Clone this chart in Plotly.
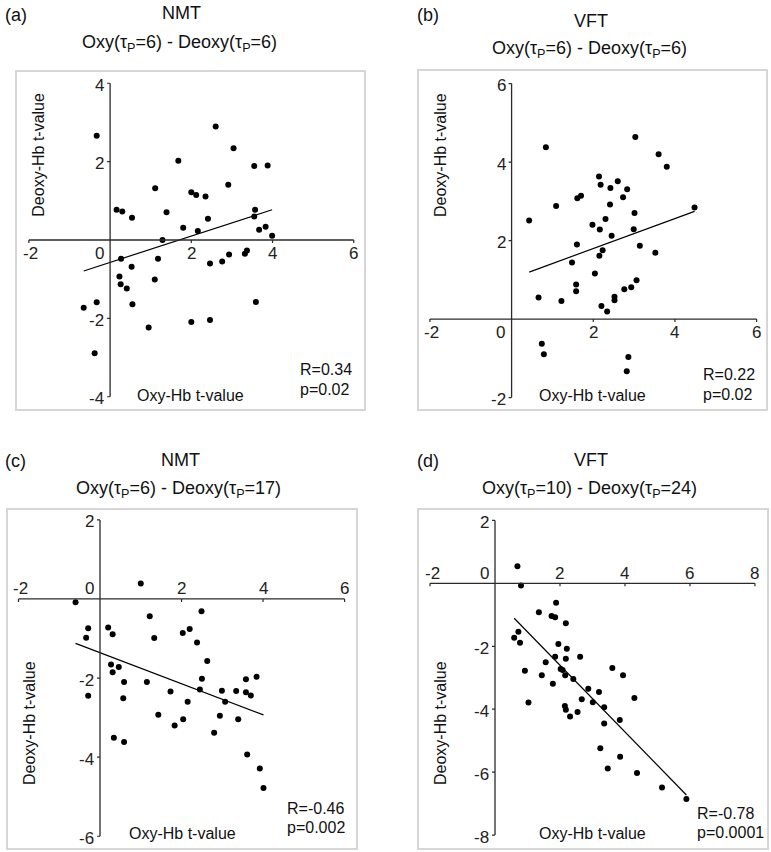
import numpy as np
import plotly.graph_objects as go

# ---------------- data ----------------
# (a) NMT  Oxy(tp=6) - Deoxy(tp=6)
a_oxy = [-0.33, -0.65, -0.33, -0.38, 0.16, 0.30, 0.54, 0.27, 0.23, 0.26, 0.41, 0.53, 0.55,
         0.95, 1.11, 1.39, 1.29, 1.18, 1.10, 1.68, 1.80, 2.00, 2.12, 2.16, 2.35, 2.41, 2.60,
         2.91, 3.04, 2.00, 2.46, 2.46, 2.76, 2.93, 3.32, 3.37, 3.55, 3.88, 3.57, 3.55, 3.67,
         3.83, 3.99, 3.59]
a_deoxy = [2.66, -1.73, -1.59, -2.89, 0.77, 0.73, 0.57, -0.48, -0.93, -1.13, -1.24, -0.68, -1.64,
           -2.23, 1.32, 0.71, 0.00, -0.48, -1.01, 2.02, 0.31, 1.22, 1.15, 0.23, 1.11, 0.54, 2.90,
           1.41, 2.34, -2.09, -2.04, -0.60, -0.55, -0.37, -0.35, -0.27, 1.89, 1.90, 0.77, 0.60, 0.26,
           0.34, 0.11, -1.58]

# (b) VFT  Oxy(tp=6) - Deoxy(tp=6)
b_oxy = [0.43, 0.84, 0.66, 0.74, 0.79, 1.09, 1.22, 1.48, 1.61, 1.70, 1.60, 1.58, 1.58, 1.98,
         2.14, 2.18, 2.16, 2.15, 2.23, 2.04, 2.20, 2.34, 2.30, 2.42, 2.41, 2.45, 2.60, 2.73,
         2.83, 3.03, 3.01, 2.99, 3.14, 3.06, 2.93, 2.76, 2.52, 2.52, 2.86, 2.82, 3.52, 3.60,
         3.80, 4.48]
b_deoxy = [2.51, 4.38, 0.55, -0.63, -0.90, 2.88, 0.46, 1.44, 3.08, 3.14, 1.90, 0.88, 0.71, 2.40,
           3.63, 3.42, 2.28, 1.61, 1.75, 1.16, 0.33, 0.19, 2.55, 3.34, 2.92, 2.12, 3.51, 3.10,
           3.31, 4.64, 2.70, 2.29, 1.87, 0.99, 0.81, 0.76, 0.57, 0.48, -0.97, -1.33, 1.69, 4.20,
           3.88, 2.84]

# (c) NMT  Oxy(tp=6) - Deoxy(tp=17)
c_oxy = [-0.60, -0.29, -0.34, -0.29, 0.20, 0.31, 0.27, 0.31, 0.46, 0.59, 0.57, 0.34, 0.59,
         1.00, 1.22, 1.33, 1.15, 1.43, 1.73, 1.83, 2.04, 2.15, 2.03, 2.20, 2.38, 2.49, 2.63,
         2.50, 2.45, 2.80, 2.94, 2.99, 3.07, 3.34, 3.39, 3.58, 3.58, 3.70, 3.84, 3.61, 3.92, 4.01]
c_deoxy = [-0.08, -0.74, -0.98, -2.45, -0.72, -0.89, -1.66, -1.85, -1.72, -2.10, -2.51, -3.51, -3.62,
           0.39, -0.44, -0.99, -2.10, -2.93, -2.34, -3.20, -3.04, -2.60, -0.86, -0.76, -1.10, -0.31, -1.57,
           -2.02, -2.29, -3.38, -2.95, -2.32, -2.60, -2.33, -3.04, -2.03, -2.36, -2.44, -1.97, -3.93, -4.29, -4.78]

# (d) VFT  Oxy(tp=10) - Deoxy(tp=24)
d_oxy = [0.69, 0.80, 0.59, 0.72, 0.77, 0.92, 1.03, 1.35, 1.56, 1.44, 1.78, 1.74, 1.85, 1.88,
         1.85, 1.95, 2.02, 2.08, 2.18, 2.21, 2.18, 2.16, 2.15, 2.18, 2.31, 2.41, 2.62, 2.54,
         2.67, 2.87, 3.01, 3.20, 3.36, 3.36, 3.24, 3.47, 3.61, 3.94, 3.84, 3.85, 4.29, 4.37,
         5.14, 5.89]
d_deoxy = [0.54, -0.07, -1.73, -1.54, -1.89, -2.78, -3.79, -0.92, -2.51, -2.92, -3.19, -1.04, -1.08, -0.62,
           -2.33, -1.93, -2.72, -2.75, -1.27, -2.08, -2.40, -2.92, -3.90, -4.02, -4.23, -3.04, -2.33, -4.09,
           -3.68, -3.35, -3.78, -3.45, -3.94, -4.45, -5.24, -5.88, -2.69, -2.92, -4.34, -5.51, -3.64, -6.03,
           -6.49, -6.85]

# tick labels
a_xticks = [-2, 0, 2, 4, 6]
a_yticks = [-4, -2, 2, 4]
b_xticks = [-2, 0, 2, 4, 6]
b_yticks = [-2, 2, 4, 6]
c_xticks = [-2, 0, 2, 4, 6]
c_yticks = [-6, -4, -2, 2]
d_xticks = [-2, 0, 2, 4, 6, 8]
d_yticks = [-8, -6, -4, -2, 2]

panel_letters = ["(a)", "(b)", "(c)", "(d)"]
tasks = ["NMT", "VFT", "NMT", "VFT"]
lag_titles = ["Oxy(τ<sub>P</sub>=6) - Deoxy(τ<sub>P</sub>=6)",
              "Oxy(τ<sub>P</sub>=6) - Deoxy(τ<sub>P</sub>=6)",
              "Oxy(τ<sub>P</sub>=6) - Deoxy(τ<sub>P</sub>=17)",
              "Oxy(τ<sub>P</sub>=10) - Deoxy(τ<sub>P</sub>=24)"]
r_texts = ["R=0.34", "R=0.22", "R=-0.46", "R=-0.78"]
p_texts = ["p=0.02", "p=0.02", "p=0.002", "p=0.0001"]

# ---------------- layout helpers ----------------
W, H = 771, 852
FONT = "Liberation Sans, Arial, Helvetica, sans-serif"
AXC = "#2a2a2a"

panels = [
    dict(x=a_oxy, y=a_deoxy, xt=a_xticks, yt=a_yticks, frame=(16.7, 72.3, 364.3, 409.3),
         xr=[-2.30, 6.26], yr=[-4.32, 4.28], lab_below=True,
         title_y=(15, 13, 43), letter_x=3, mid_x=181, ytitle=(37.7, 155), xtitle=(190, 395),
         r_pos=(298, 370, 389.5)),
    dict(x=b_oxy, y=b_deoxy, xt=b_xticks, yt=b_yticks, frame=(419.3, 71.0, 766.0, 409.3),
         xr=[-2.26, 6.23], yr=[-2.30, 6.32], lab_below=True,
         title_y=(15, 21.5, 49.5), letter_x=415, mid_x=591, ytitle=(440, 155), xtitle=(592, 395),
         r_pos=(701, 374.5, 394)),
    dict(x=c_oxy, y=c_deoxy, xt=c_xticks, yt=c_yticks, frame=(8.3, 510.0, 356.0, 847.7),
         xr=[-2.25, 6.28], yr=[-6.29, 2.25], lab_below=False,
         title_y=(461.5, 460, 489), letter_x=3, mid_x=180, ytitle=(29, 723), xtitle=(182, 833.5),
         r_pos=(285, 808, 827.5)),
    dict(x=d_oxy, y=d_deoxy, xt=d_xticks, yt=d_yticks, frame=(419.3, 510.0, 767.3, 847.7),
         xr=[-2.33, 8.38], yr=[-8.40, 2.33], lab_below=False,
         title_y=(461.5, 460, 489), letter_x=415, mid_x=591, ytitle=(440, 723), xtitle=(592, 833.5),
         r_pos=(695, 813, 832)),
]

fig = go.Figure()
annotations = []
shapes = []


def px_x(v):
    return v / W


def px_y(v):
    return 1 - v / H


for i, p in enumerate(panels):
    n = "" if i == 0 else str(i + 1)
    xa, ya = "x" + n, "y" + n
    l, t, r, b = p["frame"]
    fig.update_layout(**{
        "xaxis" + n: dict(domain=[px_x(l), px_x(r)], range=p["xr"], anchor=ya,
                          showgrid=False, zeroline=False, showticklabels=False, ticks="",
                          showline=True, mirror=True, linecolor="#d6d6d6", linewidth=1.5,
                          fixedrange=True),
        "yaxis" + n: dict(domain=[px_y(b), px_y(t)], range=p["yr"], anchor=xa,
                          showgrid=False, zeroline=False, showticklabels=False, ticks="",
                          showline=True, mirror=True, linecolor="#d6d6d6", linewidth=1.5,
                          fixedrange=True),
    })

    xs = np.array(p["x"])
    ys = np.array(p["y"])
    # regression line
    k, c0 = np.polyfit(xs, ys, 1)
    lx = np.array([xs.min(), xs.max()])
    fig.add_trace(go.Scatter(x=lx, y=k * lx + c0, mode="lines", xaxis=xa, yaxis=ya,
                             line=dict(color="black", width=1.2), showlegend=False,
                             hoverinfo="skip"))
    fig.add_trace(go.Scatter(x=xs, y=ys, mode="markers", xaxis=xa, yaxis=ya,
                             marker=dict(color="black", size=6), showlegend=False))

    xt, yt = p["xt"], p["yt"]
    # crossing axes
    shapes.append(dict(type="line", xref=xa, yref=ya, x0=min(xt), x1=max(xt), y0=0, y1=0,
                       line=dict(color=AXC, width=1.3)))
    shapes.append(dict(type="line", xref=xa, yref=ya, x0=0, x1=0, y0=min(yt), y1=max(yt),
                       line=dict(color=AXC, width=1.3)))
    for v in xt:
        if v == 0:
            continue
        shapes.append(dict(type="line", xref=xa, yref=ya, x0=v, x1=v, ysizemode="pixel",
                           yanchor=0, y0=0, y1=-3, line=dict(color=AXC, width=1.2)))
    for v in yt:
        shapes.append(dict(type="line", xref=xa, yref=ya, y0=v, y1=v, xsizemode="pixel",
                           xanchor=0, x0=0, x1=-3, line=dict(color=AXC, width=1.2)))

    # tick labels
    ysh = -13 if p["lab_below"] else 10
    for v in xt:
        annotations.append(dict(xref=xa, yref=ya, x=v, y=0, text=str(v), showarrow=False,
                                xanchor="center", yanchor="middle", yshift=ysh,
                                xshift=(-11 if v == 0 else (2 if v < 0 else 0)),
                                font=dict(size=17, color="#222", family=FONT)))
    for v in yt:
        annotations.append(dict(xref=xa, yref=ya, x=0, y=v, text=str(v), showarrow=False,
                                xanchor="right", yanchor="middle", xshift=-4, yshift=-2,
                                font=dict(size=17, color="#222", family=FONT)))

    # titles
    ly, ty, sy = p["title_y"]
    annotations.append(dict(xref="paper", yref="paper", x=px_x(p["letter_x"]), y=px_y(ly),
                            text=panel_letters[i], showarrow=False, xanchor="left",
                            yanchor="middle", font=dict(size=18, color="#111", family=FONT)))
    annotations.append(dict(xref="paper", yref="paper", x=px_x(p["mid_x"]), y=px_y(ty),
                            text=tasks[i], showarrow=False, xanchor="center",
                            yanchor="middle", font=dict(size=18, color="#111", family=FONT)))
    annotations.append(dict(xref="paper", yref="paper", x=px_x(p["mid_x"] - 2), y=px_y(sy),
                            text=lag_titles[i], showarrow=False, xanchor="center",
                            yanchor="middle", font=dict(size=18, color="#111", family=FONT)))
    # axis titles
    annotations.append(dict(xref="paper", yref="paper", x=px_x(p["ytitle"][0]),
                            y=px_y(p["ytitle"][1]), text="Deoxy-Hb t-value", textangle=-90,
                            showarrow=False, xanchor="center", yanchor="middle",
                            font=dict(size=16, color="#111", family=FONT)))
    annotations.append(dict(xref="paper", yref="paper", x=px_x(p["xtitle"][0]),
                            y=px_y(p["xtitle"][1]), text="Oxy-Hb t-value",
                            showarrow=False, xanchor="center", yanchor="middle",
                            font=dict(size=16, color="#111", family=FONT)))
    # stats
    rx, ry, py = p["r_pos"]
    annotations.append(dict(xref="paper", yref="paper", x=px_x(rx), y=px_y(ry),
                            text=r_texts[i], showarrow=False, xanchor="left", yanchor="middle",
                            font=dict(size=16, color="#111", family=FONT)))
    annotations.append(dict(xref="paper", yref="paper", x=px_x(rx), y=px_y(py),
                            text=p_texts[i], showarrow=False, xanchor="left", yanchor="middle",
                            font=dict(size=16, color="#111", family=FONT)))

fig.update_layout(width=W, height=H, margin=dict(l=0, r=0, t=0, b=0),
                  paper_bgcolor="white", plot_bgcolor="white",
                  annotations=annotations, shapes=shapes, showlegend=False,
                  font=dict(family=FONT))

fig.write_html("out.html", config={"displayModeBar": False},
               post_script="document.body.style.margin='0';document.body.style.padding='0';"
                           "document.body.style.overflow='hidden';")
